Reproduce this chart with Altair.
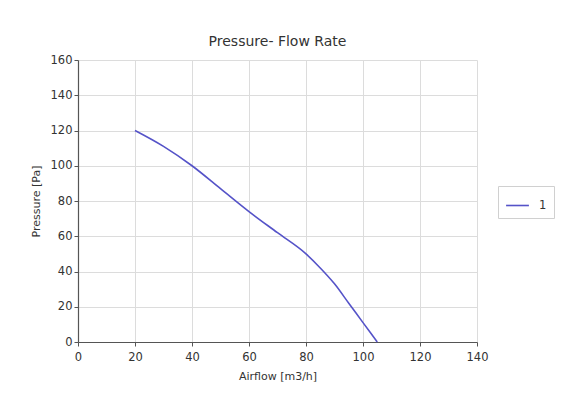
import altair as alt
import pandas as pd

airflow = [20, 30, 40, 50, 60, 70, 80, 85, 90, 95, 100, 105]
pressure = [120, 111, 100, 87, 74, 62, 50, 42, 33, 22, 11, 0]
series = ["1"] * len(airflow)

df = pd.DataFrame({"Airflow": airflow, "Pressure": pressure, "series": series})

FONT = "DejaVu Sans"

chart = alt.Chart(df).mark_line(strokeWidth=1.6, interpolate="monotone").encode(
    x=alt.X("Airflow:Q", scale=alt.Scale(domain=[0, 140], nice=False),
            axis=alt.Axis(title="Airflow [m3/h]", values=list(range(0, 141, 20)),
                          grid=True, titlePadding=8, labelPadding=5, labelFlush=False)),
    y=alt.Y("Pressure:Q", scale=alt.Scale(domain=[0, 160], nice=False),
            axis=alt.Axis(title="Pressure [Pa]", values=list(range(0, 161, 20)),
                          grid=True, titlePadding=9)),
    color=alt.Color("series:N", scale=alt.Scale(range=["#5553c8"]),
                    legend=alt.Legend(title=None, orient="none", legendX=420, legendY=126,
                                      symbolType="stroke", symbolSize=520, symbolStrokeWidth=1.6,
                                      strokeColor="#d0d0d0", padding=7, labelFontSize=11.5,
                                      labelOffset=9, labelColor="#333333", labelFont=FONT)),
).properties(
    width=399, height=282,
    title=alt.Title("Pressure- Flow Rate", fontSize=14, fontWeight="normal", font=FONT,
                    color="#333333", offset=5),
    autosize=alt.AutoSizeParams(type="none"),
    padding={"left": 70, "top": 52, "right": 85, "bottom": 53},
).configure_view(stroke=None).configure_axis(
    labelFont=FONT, titleFont=FONT, labelFontSize=11.5, titleFontSize=11,
    labelColor="#333333", titleColor="#333333", titleFontWeight="normal",
    domainColor="#555555", tickColor="#555555", gridColor="#dcdcdc",
    domainWidth=1.2, tickSize=4,
)

chart.save("out.html", embed_options={"renderer": "svg", "actions": False})
